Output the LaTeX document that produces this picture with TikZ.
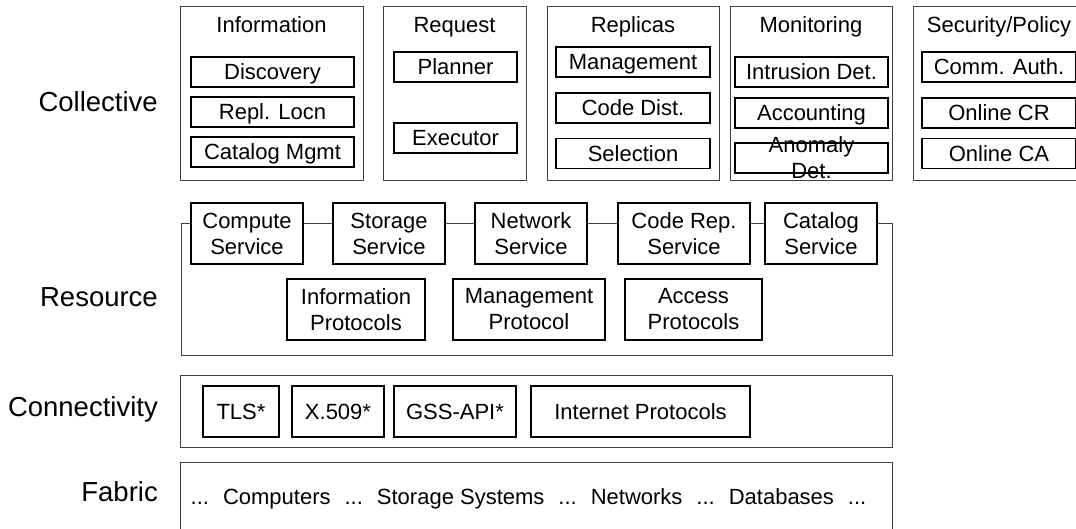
\documentclass[tikz,border=0pt]{standalone}
\usepackage{fontspec}
\setmainfont{Liberation Sans}
\usetikzlibrary{positioning}
\tikzset{
x=1pt, y=-1pt, % one unit per pixel, y grows downwards
layer/.style={draw=black!75, line width=0.9pt, inner sep=0pt}, % outer frames
part/.style={draw, fill=white, line width=1.3pt, inner sep=0pt, minimum height=30pt,
  font=\fontsize{22}{26}\selectfont, text height=15.8pt, text depth=0pt},
svc/.style={draw, fill=white, line width=1.3pt, inner sep=0pt, minimum height=61pt,
  align=center, font=\fontsize{22}{26}\selectfont},
title/.style={inner sep=0pt, font=\fontsize{22}{26}\selectfont, text height=15.8pt, text depth=0pt},
side/.style={anchor=east, inner sep=0pt, font=\fontsize{27.5}{32}\selectfont, text height=19.8pt, text depth=0pt},
}

\begin{document}
\begin{tikzpicture}
  \path[use as bounding box, clip] (0,0) rectangle (1076,529);

  % layer names on the left
  \node[side] (lcol) at (158,102) {Collective};
  \node[side] (lres) at (158,297) {Resource};
  \node[side] (lcon) at (158,407) {Connectivity};
  \node[side] (lfab) at (158,492) {Fabric};

  % collective layer
  \node[layer, minimum width=183pt, minimum height=174pt] (info) at (271.5,93) {};
  \node[layer, minimum width=143pt, minimum height=174pt] (req) at (454.5,93) {};
  \node[layer, minimum width=172pt, minimum height=174pt] (repl) at (633,93) {};
  \node[layer, minimum width=162pt, minimum height=174pt] (mon) at (811,93) {};
  \node[layer, minimum width=172pt, minimum height=174pt] (sec) at (999,93) {};

  \node[title, below=11pt of info.north] (infot) {Information};
  \node[title, below=11pt of req.north] (reqt) {Request};
  \node[title, below=11pt of repl.north] (replt) {Replicas};
  \node[title, below=11pt of mon.north] (mont) {Monitoring};
  \node[title, below=11pt of sec.north] (sect) {Security/Policy};

  \node[part, minimum width=163pt] (disc) at (272.5,72) {Discovery};
  \node[part, minimum width=163pt, below=8.7pt of disc] (locn) {Repl. Locn};
  \node[part, minimum width=163pt, below=8.7pt of locn] (catm) {Catalog Mgmt};

  \node[part, minimum width=123pt] (plan) at (455.5,67) {Planner};
  \node[part, minimum width=123pt] (exec) at (455.5,138) {Executor};

  \node[part, minimum width=154pt] (rmgmt) at (633,62) {Management};
  \node[part, minimum width=154pt] (cdist) at (633,108) {Code Dist.};
  \node[part, minimum width=154pt] (sel) at (633,153.5) {Selection};

  \node[part, minimum width=153pt] (intr) at (811.5,72) {Intrusion Det.};
  \node[part, minimum width=153pt] (acct) at (811.5,113) {Accounting};
  \node[part, minimum width=153pt] (anom) at (811.5,158) {};
  \node[align=center, inner sep=0pt, font=\fontsize{22}{26}\selectfont] (anomt) at (anom.center) {Anomaly\\Det.};

  \node[part, minimum width=154pt] (comm) at (999,67) {Comm. Auth.};
  \node[part, minimum width=154pt] (ocr) at (999,113) {Online CR};
  \node[part, minimum width=154pt] (oca) at (999,153.5) {Online CA};

  % resource layer
  \node[layer, minimum width=711pt, minimum height=132pt] (res) at (536.5,289) {};
  \node[svc, minimum width=112pt] (comp) at (247,233.5) {Compute\\Service};
  \node[svc, minimum width=112pt] (stor) at (389,233.5) {Storage\\Service};
  \node[svc, minimum width=112pt] (netw) at (531,233.5) {Network\\Service};
  \node[svc, minimum width=132pt] (crep) at (684,233.5) {Code Rep.\\Service};
  \node[svc, minimum width=112pt] (csvc) at (821,233.5) {Catalog\\Service};
  \node[svc, minimum width=138pt] (infop) at (356,309.5) {Information\\Protocols};
  \node[svc, minimum width=152pt] (mgmtp) at (529,309.5) {Management\\Protocol};
  \node[svc, minimum width=137pt] (accp) at (693.5,309.5) {Access\\Protocols};

  % connectivity layer
  \node[layer, minimum width=712pt, minimum height=72pt] (con) at (536,411) {};
  \node[part, minimum width=76pt, minimum height=51pt] (tls) at (241,411.5) {TLS*};
  \node[part, minimum width=92pt, minimum height=51pt] (x509) at (338,411.5) {X.509*};
  \node[part, minimum width=122pt, minimum height=51pt] (gss) at (455,411.5) {GSS-API*};
  \node[part, minimum width=219pt, minimum height=51pt] (inet) at (640.5,411.5) {Internet Protocols};

  % fabric layer
  \node[layer, minimum width=712pt, minimum height=100pt] (fab) at (536,512) {};
  \node[title] (fabt) at (528.5,497) {...\hspace{14pt}Computers\hspace{14pt}...\hspace{14pt}Storage Systems\hspace{14pt}...\hspace{14pt}Networks\hspace{14pt}...\hspace{14pt}Databases\hspace{14pt}...};
\end{tikzpicture}
\end{document}
